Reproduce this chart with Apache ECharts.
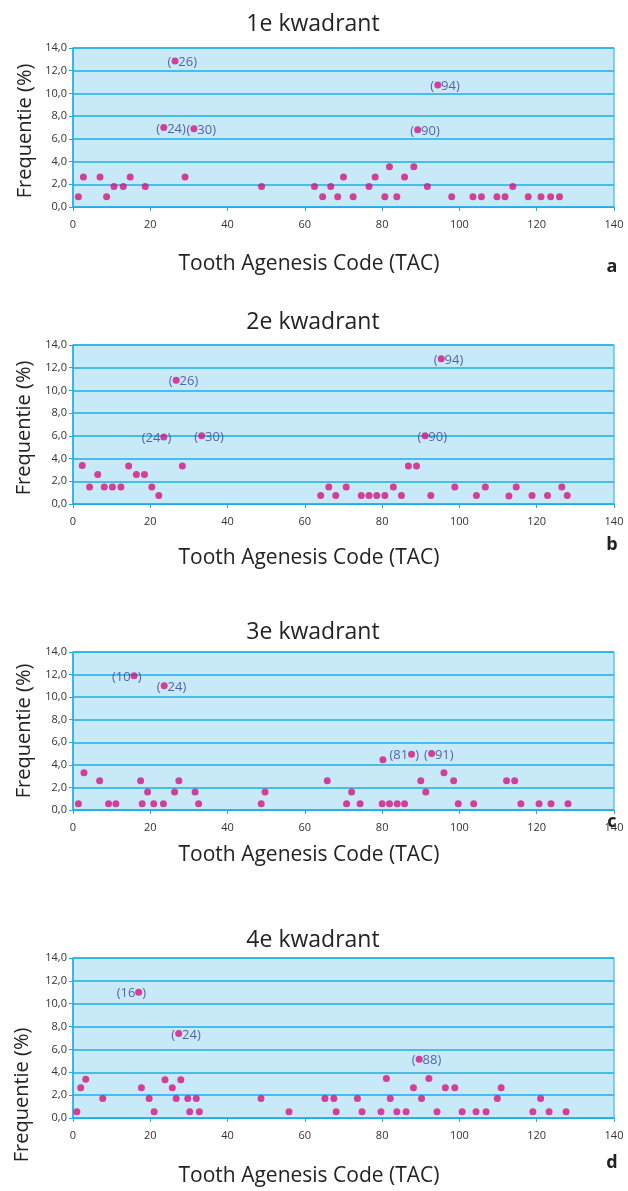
<!DOCTYPE html>
<html><head><meta charset="utf-8">
<script src="https://cdn.jsdelivr.net/npm/echarts@6/dist/echarts.min.js"></script>
<style>html,body{margin:0;padding:0;background:#fff}#c{width:628px;height:1191px}</style>
</head><body><div id="c"></div>
<script>
const titles = ['1e kwadrant', '2e kwadrant', '3e kwadrant', '4e kwadrant'];
const panelLetters = ['a', 'b', 'c', 'd'];
const xAxisTitle = 'Tooth Agenesis Code (TAC)';
const yAxisTitle = 'Frequentie (%)';

// [TAC, frequency %]
const q1Points = [[1.4,0.9],[2.7,2.65],[7.0,2.65],[8.7,0.9],[10.6,1.8],[13.0,1.8],[14.8,2.65],[18.7,1.8],[29.0,2.65],[48.8,1.8],[62.5,1.8],[64.6,0.9],[66.7,1.8],[68.5,0.9],[70.0,2.65],[72.5,0.9],[76.6,1.8],[78.2,2.65],[80.7,0.9],[81.9,3.55],[83.8,0.9],[85.8,2.65],[88.2,3.55],[91.7,1.8],[98.0,0.9],[103.5,0.9],[105.7,0.9],[109.7,0.9],[111.8,0.9],[113.8,1.8],[117.8,0.9],[121.1,0.9],[123.6,0.9],[125.9,0.9]];
// [TAC, frequency %, label code, dot position in label]
const q1Marked = [[23.5,7.0,'24','pre'],[26.4,12.85,'26','pre'],[31.3,6.9,'30','pre'],[89.2,6.8,'90','pre'],[94.4,10.75,'94','pre']];

const q2Points = [[2.4,3.4],[4.3,1.5],[6.4,2.6],[8.1,1.5],[10.2,1.5],[12.4,1.5],[14.4,3.35],[16.4,2.6],[18.5,2.6],[20.4,1.5],[22.2,0.75],[28.3,3.35],[64.1,0.75],[66.2,1.5],[68.0,0.75],[70.7,1.5],[74.6,0.75],[76.6,0.75],[78.6,0.75],[80.7,0.75],[82.9,1.5],[85.0,0.75],[86.8,3.35],[88.9,3.35],[92.6,0.75],[98.8,1.5],[104.4,0.75],[106.7,1.5],[112.8,0.7],[114.7,1.5],[118.8,0.75],[122.8,0.75],[126.5,1.5],[127.9,0.75]];
const q2Marked = [[23.5,5.9,'24','post'],[26.7,10.9,'26','pre'],[33.3,6.0,'30','pre'],[91.1,6.0,'90','pre'],[95.3,12.8,'94','pre']];

const q3Points = [[1.4,0.55],[2.85,3.3],[6.9,2.6],[9.2,0.55],[11.1,0.55],[17.5,2.6],[17.9,0.55],[19.3,1.6],[20.9,0.55],[23.4,0.55],[26.3,1.6],[27.4,2.6],[31.6,1.6],[32.5,0.55],[48.7,0.55],[49.7,1.6],[65.8,2.6],[70.8,0.55],[72.1,1.6],[74.3,0.55],[80.0,0.55],[80.2,4.45],[81.9,0.55],[83.9,0.55],[85.8,0.55],[90.0,2.6],[91.3,1.6],[96.0,3.3],[98.5,2.6],[99.7,0.55],[103.7,0.55],[112.2,2.6],[114.3,2.6],[115.9,0.55],[120.6,0.55],[123.7,0.55],[128.1,0.55]];
const q3Marked = [[15.8,11.9,'10','post'],[23.6,11.0,'24','pre'],[87.6,4.95,'81','post'],[92.8,5.0,'91','pre']];

const q4Points = [[1.0,0.55],[2.0,2.65],[3.3,3.4],[7.7,1.7],[17.7,2.65],[19.7,1.7],[21.0,0.55],[23.8,3.35],[25.7,2.65],[26.7,1.7],[27.9,3.35],[29.7,1.7],[30.2,0.55],[31.9,1.7],[32.7,0.55],[48.65,1.7],[55.9,0.55],[65.2,1.7],[67.5,1.7],[68.1,0.55],[73.6,1.7],[74.8,0.55],[79.7,0.55],[81.1,3.45],[82.1,1.7],[83.8,0.55],[86.2,0.55],[88.1,2.65],[90.2,1.7],[92.1,3.45],[94.2,0.55],[96.35,2.65],[98.8,2.65],[100.7,0.55],[104.3,0.55],[106.9,0.55],[109.8,1.7],[110.8,2.65],[119.0,0.55],[121.0,1.7],[123.2,0.55],[127.6,0.55]];
const q4Marked = [[17.0,11.0,'16','post'],[27.35,7.4,'24','pre'],[89.6,5.15,'88','pre']];

const allPoints = [q1Points, q2Points, q3Points, q4Points];
const allMarked = [q1Marked, q2Marked, q3Marked, q4Marked];

// layout
const gridTops = [48, 345, 652, 958];
const gridHeights = [159, 159, 158, 160];
const titleY = [24, 322, 632, 940];
const xTitleY = [264, 558, 855, 1176];
const yTitleCenter = [[25,131],[24,428],[24,731],[22,1095]];
const letterY = [267, 545, 822, 1163];

const FONT = '"Open Sans", "DejaVu Sans", sans-serif';
const BLUE = '#1eaee6';
const DOT = '#d6137f';
const LBL = '#3a3f9a';

const grids = [], xAxes = [], yAxes = [], series = [], graphics = [];
for (let i = 0; i < 4; i++) {
  grids.push({left: 73, right: 14, top: gridTops[i], height: gridHeights[i], show: true,
    backgroundColor: '#c8e9f8', borderColor: BLUE, borderWidth: 1});
  xAxes.push({type: 'value', gridIndex: i, min: 0, max: 140, interval: 20,
    axisLine: {show: true, lineStyle: {color: BLUE, width: 1}},
    axisTick: {show: true, length: 4, lineStyle: {color: BLUE}},
    splitLine: {show: false},
    axisLabel: {margin: 12, fontSize: 11, color: '#333', fontFamily: FONT}});
  yAxes.push({type: 'value', gridIndex: i, min: 0, max: 14, interval: 2,
    axisLine: {show: true, lineStyle: {color: BLUE, width: 1.5}},
    axisTick: {show: true, length: 4, lineStyle: {color: BLUE}},
    splitLine: {show: true, lineStyle: {color: BLUE, width: 1.5}},
    axisLabel: {margin: 6, fontSize: 11, color: '#333', fontFamily: FONT,
      formatter: v => v.toFixed(1).replace('.', ',')}});
  series.push({type: 'scatter', xAxisIndex: i, yAxisIndex: i, symbol: 'circle', symbolSize: 7,
    itemStyle: {color: DOT}, data: allPoints[i], silent: true, z: 3});
  series.push({type: 'scatter', xAxisIndex: i, yAxisIndex: i, symbol: 'circle', symbolSize: 7,
    itemStyle: {color: DOT}, silent: true, z: 4,
    data: allMarked[i].map(m => {
      const pre = m[3] === 'pre';
      return {value: [m[0], m[1]], label: {show: true,
        formatter: pre ? '{p|(}{g| }{p|' + m[2] + ')}' : '{p|(' + m[2] + '}{g| }{p|)}',
        position: pre ? [-4, 5] : [11, 5], align: pre ? 'left' : 'right', verticalAlign: 'middle',
        rich: {p: {fontSize: 13, color: LBL, fontFamily: FONT}, g: {width: 7, fontSize: 13}}}};
    })});
  graphics.push({type: 'text', x: 313, y: titleY[i], style: {text: titles[i], textAlign: 'center',
    textVerticalAlign: 'middle', font: '23px ' + FONT, fill: '#222'}});
  graphics.push({type: 'text', x: 309, y: xTitleY[i], style: {text: xAxisTitle, textAlign: 'center',
    textVerticalAlign: 'middle', font: '21px ' + FONT, fill: '#222'}});
  graphics.push({type: 'text', x: yTitleCenter[i][0], y: yTitleCenter[i][1], rotation: Math.PI / 2,
    style: {text: yAxisTitle, textAlign: 'center', textVerticalAlign: 'middle', font: '20px ' + FONT, fill: '#222'}});
  graphics.push({type: 'text', x: 612, y: letterY[i], style: {text: panelLetters[i], textAlign: 'center',
    textVerticalAlign: 'middle', font: 'bold 18px ' + FONT, fill: '#222'}});
}

const chart = echarts.init(document.getElementById('c'), null, {renderer: 'canvas'});
chart.setOption({animation: false, grid: grids, xAxis: xAxes, yAxis: yAxes, series: series, graphic: graphics});
</script></body></html>
